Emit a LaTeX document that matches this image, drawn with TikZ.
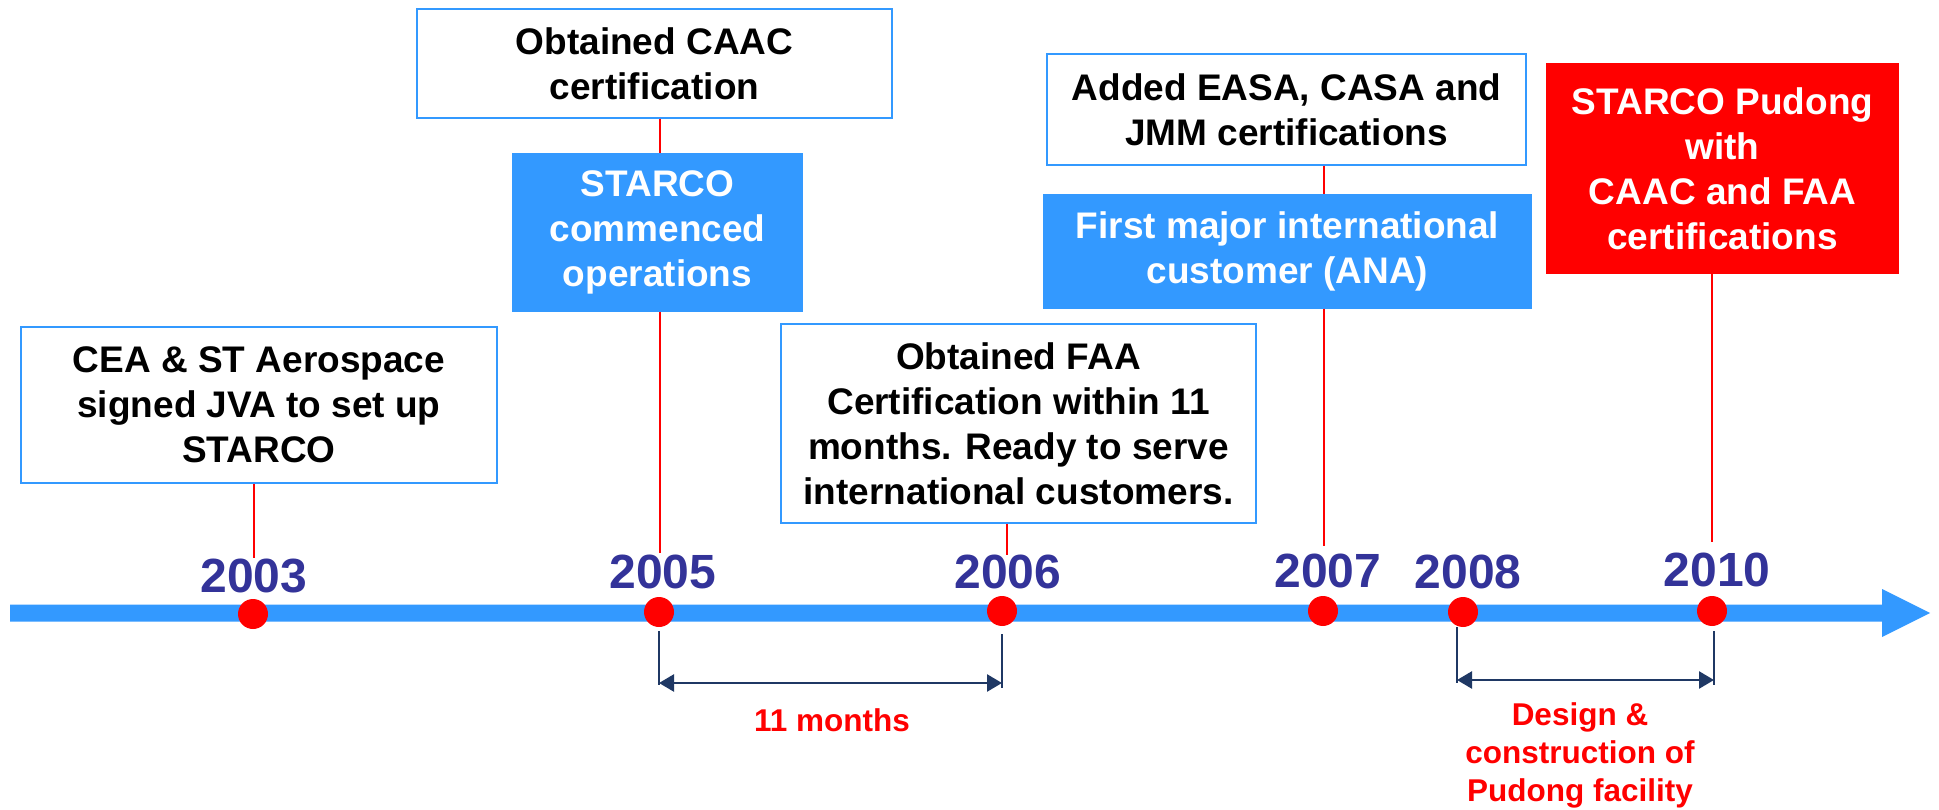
\documentclass[tikz,border=0pt]{standalone}
\usepackage{fontspec}
\setmainfont{Liberation Sans}
\usetikzlibrary{arrows.meta}
\definecolor{tlblue}{RGB}{51,153,255}
\definecolor{yearblue}{RGB}{51,51,153}
\definecolor{navy}{RGB}{31,56,100}
\definecolor{tred}{RGB}{255,0,0}
\tikzset{
 evbox/.style={draw=tlblue, line width=1.5pt, fill=white, text=black, align=center, inner sep=0pt, font=\bfseries\fontsize{37}{45}\selectfont},
 bluebox/.style={evbox, draw=tlblue, fill=tlblue, text=white},
 redbox/.style={evbox, draw=tred, fill=tred, text=white},
 year/.style={text=yearblue, font=\bfseries\fontsize{48}{48}\selectfont, inner sep=0pt},
 dot/.style={circle, fill=tred, minimum size=30pt, inner sep=0pt},
 link/.style={draw=tred, line width=1.6pt},
 span/.style={draw=navy, line width=2.5pt},
 spanarrow/.style={span, {Triangle[length=15pt,width=17pt]}-{Triangle[length=15pt,width=17pt]}},
 note/.style={text=tred, align=center, font=\bfseries\fontsize{31.5}{38}\selectfont, inner sep=0pt}
}
\begin{document}
\begin{tikzpicture}[x=1pt,y=-1pt]
\useasboundingbox[fill=white] (0,0) rectangle (1939,810);

% timeline
\fill[tlblue] (10,604.5) -- (1882,604.5) -- (1882,589) -- (1930,613) -- (1882,637) -- (1882,621.5) -- (10,621.5) -- cycle;

% event boxes
\node[evbox, minimum width=476pt, minimum height=156pt] (b2003) at (259,405)
  {CEA \& ST Aerospace\\signed JVA to set up\\STARCO};
\node[evbox, minimum width=475pt, minimum height=109pt] (bcaac) at (654.5,63.5)
  {Obtained CAAC\\certification};
\node[bluebox, minimum width=289pt, minimum height=157pt] (bstart) at (657.5,232.5)
  {STARCO\\commenced\\operations};
\node[evbox, minimum width=475pt, minimum height=199pt] (bfaa) at (1018.5,423.5)
  {Obtained FAA\\Certification within 11\\months. Ready to serve\\international customers.};
\node[evbox, minimum width=479pt, minimum height=111pt] (beasa) at (1286.5,109.5)
  {Added EASA, CASA and\\JMM certifications};
\node[bluebox, minimum width=487pt, minimum height=113pt] (bana) at (1287.5,251.5)
  {First major international\\customer (ANA)};
\node[redbox, minimum width=351pt, minimum height=209pt] (bpud) at (1722.5,168.5)
  {STARCO Pudong\\with\\CAAC and FAA\\certifications};

% year labels
\node[year] (y2003) at (254,576) {2003};
\node[year] (y2005) at (663,572) {2005};
\node[year] (y2006) at (1008,572) {2006};
\node[year] (y2007) at (1328,571) {2007};
\node[year] (y2008) at (1468,572) {2008};
\node[year] (y2010) at (1717,570) {2010};

% dots
\node[dot] (d2003) at (253,614) {};
\node[dot] (d2005) at (659,612) {};
\node[dot] (d2006) at (1002,611) {};
\node[dot] (d2007) at (1323,611) {};
\node[dot] (d2008) at (1463,612) {};
\node[dot] (d2010) at (1712,611) {};

% connector ends
\coordinate (c03) at (254,558);
\coordinate (c05) at (660,553);
\coordinate (c06) at (1007,555);
\coordinate (c07) at (1324,546);
\coordinate (c10) at (1712,542);

\draw[link] (c03 |- b2003.south) -- (c03);
\draw[link] (c05 |- bcaac.south) -- (c05 |- bstart.north);
\draw[link] (c05 |- bstart.south) -- (c05);
\draw[link] (c06 |- bfaa.south) -- (c06);
\draw[link] (c07 |- beasa.south) -- (c07 |- bana.north);
\draw[link] (c07 |- bana.south) -- (c07);
\draw[link] (c10 |- bpud.south) -- (c10);

% spans
\coordinate (s05t) at (659,631);
\coordinate (s05b) at (659,685);
\coordinate (s06t) at (1002,634);
\coordinate (s06b) at (1002,688);
\coordinate (a05) at (659,683);
\coordinate (a06) at (1002,683);
\draw[span] (s05t) -- (s05b);
\draw[span] (s06t) -- (s06b);
\draw[spanarrow] (a05) -- (a06);
\node[note] (n11) at (832,720) {11 months};

\coordinate (s08t) at (1457,627);
\coordinate (s08b) at (1457,683);
\coordinate (s10t) at (1714,631);
\coordinate (s10b) at (1714,685);
\coordinate (a08) at (1457,680);
\coordinate (a10) at (1714,680);
\draw[span] (s08t) -- (s08b);
\draw[span] (s10t) -- (s10b);
\draw[spanarrow] (a08) -- (a10);
\node[note] (ndes) at (1580,755) {Design \&\\construction of\\Pudong facility};
\end{tikzpicture}
\end{document}
